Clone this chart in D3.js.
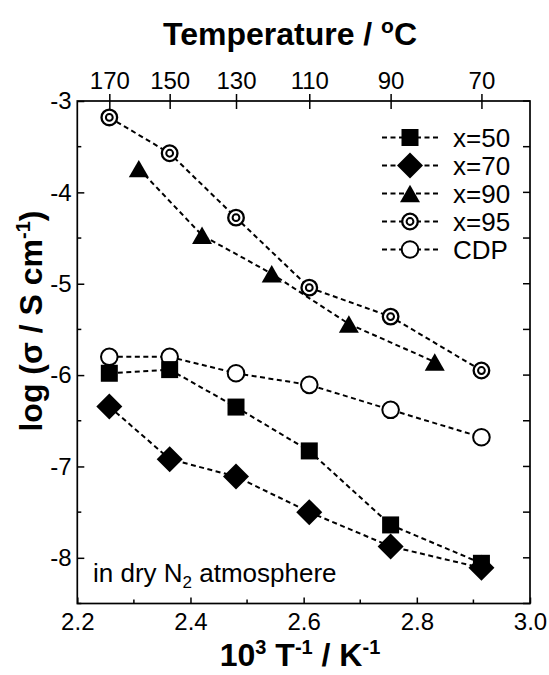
<!DOCTYPE html>
<html>
<head>
<meta charset="utf-8">
<script src="https://cdn.jsdelivr.net/npm/d3@7"></script>
<style>
  html, body { margin: 0; padding: 0; background: #fff; }
  svg { display: block; font-family: "Liberation Sans", Arial, Helvetica, sans-serif; }
</style>
</head>
<body>
<svg id="chart" width="549" height="675"></svg>
<script>
// Measurement temperatures (°C)
const temps = [170, 150, 130, 110, 90, 70];
const tempsX90 = [160, 140, 120, 100, 80];

// log(conductivity / S cm^-1) for each composition
const x50 = [-5.98, -5.94, -6.35, -6.83, -7.64, -8.06];
const x70 = [-6.345, -6.92, -7.11, -7.50, -7.875, -8.11];
const x90 = [-3.74, -4.47, -4.89, -5.44, -5.856];
const x95 = [-3.18, -3.572, -4.277, -5.043, -5.36, -5.95];
const cdp = [-5.80, -5.80, -5.98, -6.107, -6.38, -6.68];

// Axis ticks
const xTicks = [2.2, 2.4, 2.6, 2.8, 3.0];
const xMinor = [2.3, 2.5, 2.7, 2.9];
const yTicks = [-3, -4, -5, -6, -7, -8];
const yMinor = [-3.5, -4.5, -5.5, -6.5, -7.5, -8.5];
const topTicks = [170, 150, 130, 110, 90, 70];

const invT = t => 1000 / (t + 273.15);

const L = 77.3, R = 530, T = 101, B = 603.5;
const x = d3.scaleLinear().domain([2.2, 3.0]).range([L, R]);
const y = d3.scaleLinear().domain([-8.5, -3]).range([B, T]);

const svg = d3.select("#chart");

// Frame
svg.append("rect")
  .attr("x", L).attr("y", T).attr("width", R - L).attr("height", B - T)
  .attr("fill", "none").attr("stroke", "#000").attr("stroke-width", 1.7);

// Bottom axis (inward ticks)
const axisB = d3.axisBottom(x).tickValues(xTicks).tickFormat(d3.format(".1f"))
  .tickSizeInner(-6).tickSizeOuter(0).tickPadding(12);
const gB = svg.append("g").attr("transform", `translate(0,${B})`).call(axisB);
gB.selectAll("path.domain").remove();
gB.selectAll("line").attr("stroke", "#000").attr("stroke-width", 1.5);
gB.selectAll("text").attr("font-size", 24).attr("fill", "#000")
  .attr("font-family", "Liberation Sans, Arial, sans-serif").attr("dy", "0.71em").attr("y", 9);
svg.append("g").selectAll("line").data(xMinor).join("line")
  .attr("x1", d => x(d)).attr("x2", d => x(d)).attr("y1", B).attr("y2", B - 4)
  .attr("stroke", "#000").attr("stroke-width", 1.5);

// Left axis (inward ticks)
const axisL = d3.axisLeft(y).tickValues(yTicks).tickFormat(d => String(d))
  .tickSizeInner(-7).tickSizeOuter(0).tickPadding(13);
const gL = svg.append("g").attr("transform", `translate(${L},0)`).call(axisL);
gL.selectAll("path.domain").remove();
gL.selectAll("line").attr("stroke", "#000").attr("stroke-width", 1.5);
gL.selectAll("text").attr("font-size", 24).attr("fill", "#000")
  .attr("font-family", "Liberation Sans, Arial, sans-serif").attr("x", -5.6);
svg.append("g").selectAll("line").data(yMinor).join("line")
  .attr("x1", L).attr("x2", L + 4).attr("y1", d => y(d)).attr("y2", d => y(d))
  .attr("stroke", "#000").attr("stroke-width", 1.5);

// Right axis (inward ticks every 0.5)
svg.append("g").selectAll("line").data(yTicks.concat(yMinor)).join("line")
  .attr("x1", R).attr("x2", R - 7).attr("y1", d => y(d)).attr("y2", d => y(d))
  .attr("stroke", "#000").attr("stroke-width", 1.5);

// Top axis in °C (ticks crossing the frame)
const axisT = d3.axisTop(x).tickValues(topTicks.map(invT))
  .tickFormat((d, i) => topTicks[i]).tickSizeInner(0).tickSizeOuter(0).tickPadding(12);
const gT = svg.append("g").attr("transform", `translate(0,${T})`).call(axisT);
gT.selectAll("path.domain").remove();
gT.selectAll("line").attr("y1", -7).attr("y2", 8).attr("stroke", "#000").attr("stroke-width", 1.5);
gT.selectAll("text").attr("font-size", 24).attr("fill", "#000")
  .attr("font-family", "Liberation Sans, Arial, sans-serif");

// Titles
svg.append("text").attr("x", 290).attr("y", 45).attr("text-anchor", "middle")
  .attr("font-size", 32).attr("font-weight", "bold")
  .html('Temperature / <tspan dy="-12" font-size="21">o</tspan><tspan dy="12">C</tspan>');

svg.append("text").attr("x", 300).attr("y", 666).attr("text-anchor", "middle")
  .attr("font-size", 32).attr("font-weight", "bold")
  .html('10<tspan dy="-12" font-size="20">3</tspan><tspan dy="12"> T</tspan><tspan dy="-12" font-size="20">-1</tspan><tspan dy="12"> / K</tspan><tspan dy="-12" font-size="20">-1</tspan>');

svg.append("text").attr("transform", "translate(42,321) rotate(-90)").attr("text-anchor", "middle")
  .attr("font-size", 32).attr("font-weight", "bold")
  .html('log (σ / S cm<tspan dy="-12" font-size="20">-1</tspan><tspan dy="12">)</tspan>');

// Annotation
svg.append("text").attr("x", 93).attr("y", 582).attr("font-size", 26)
  .html('in dry N<tspan dy="6" font-size="17">2</tspan><tspan dy="-6"> atmosphere</tspan>');

// Marker drawers
const markers = {
  square: g => g.append("rect").attr("x", -8.5).attr("y", -8.5).attr("width", 17).attr("height", 17).attr("fill", "#000"),
  diamond: g => g.append("path").attr("d", "M0,-13L13,0L0,13L-13,0Z").attr("fill", "#000"),
  triangle: g => g.append("path").attr("d", "M0,-8.7L10,8.7L-10,8.7Z").attr("fill", "#000"),
  double: g => {
    g.append("circle").attr("r", 7.8).attr("fill", "#fff").attr("stroke", "#000").attr("stroke-width", 2.3);
    g.append("circle").attr("r", 3.4).attr("fill", "#fff").attr("stroke", "#000").attr("stroke-width", 2);
  },
  open: g => g.append("circle").attr("r", 8.3).attr("fill", "#fff").attr("stroke", "#000").attr("stroke-width", 2)
};

const series = [
  { name: "CDP", t: temps, v: cdp, m: "open" },
  { name: "x=95", t: temps, v: x95, m: "double" },
  { name: "x=90", t: tempsX90, v: x90, m: "triangle" },
  { name: "x=70", t: temps, v: x70, m: "diamond" },
  { name: "x=50", t: temps, v: x50, m: "square" }
];

const line = d3.line().x(d => x(invT(d[0]))).y(d => y(d[1]));
const dash = "5,3.5";

svg.append("g").selectAll("path").data(series).join("path")
  .attr("d", s => line(s.t.map((t, i) => [t, s.v[i]])))
  .attr("fill", "none").attr("stroke", "#000").attr("stroke-width", 2).attr("stroke-dasharray", dash);

series.forEach(s => {
  const g = svg.append("g");
  s.t.forEach((t, i) => {
    const p = g.append("g").attr("transform", `translate(${x(invT(t))},${y(s.v[i])})`);
    markers[s.m](p);
  });
});

// Legend
const legendOrder = ["x=50", "x=70", "x=90", "x=95", "CDP"];
const lg = svg.append("g");
legendOrder.forEach((name, i) => {
  const s = series.find(d => d.name === name);
  const cy = 137.5 + i * 28;
  lg.append("line").attr("x1", 382).attr("x2", 438).attr("y1", cy).attr("y2", cy)
    .attr("stroke", "#000").attr("stroke-width", 2).attr("stroke-dasharray", dash);
  markers[s.m](lg.append("g").attr("transform", `translate(410,${cy})`));
  lg.append("text").attr("x", 453).attr("y", cy).attr("dy", "0.36em").attr("font-size", 26).text(name);
});
</script>
</body>
</html>
